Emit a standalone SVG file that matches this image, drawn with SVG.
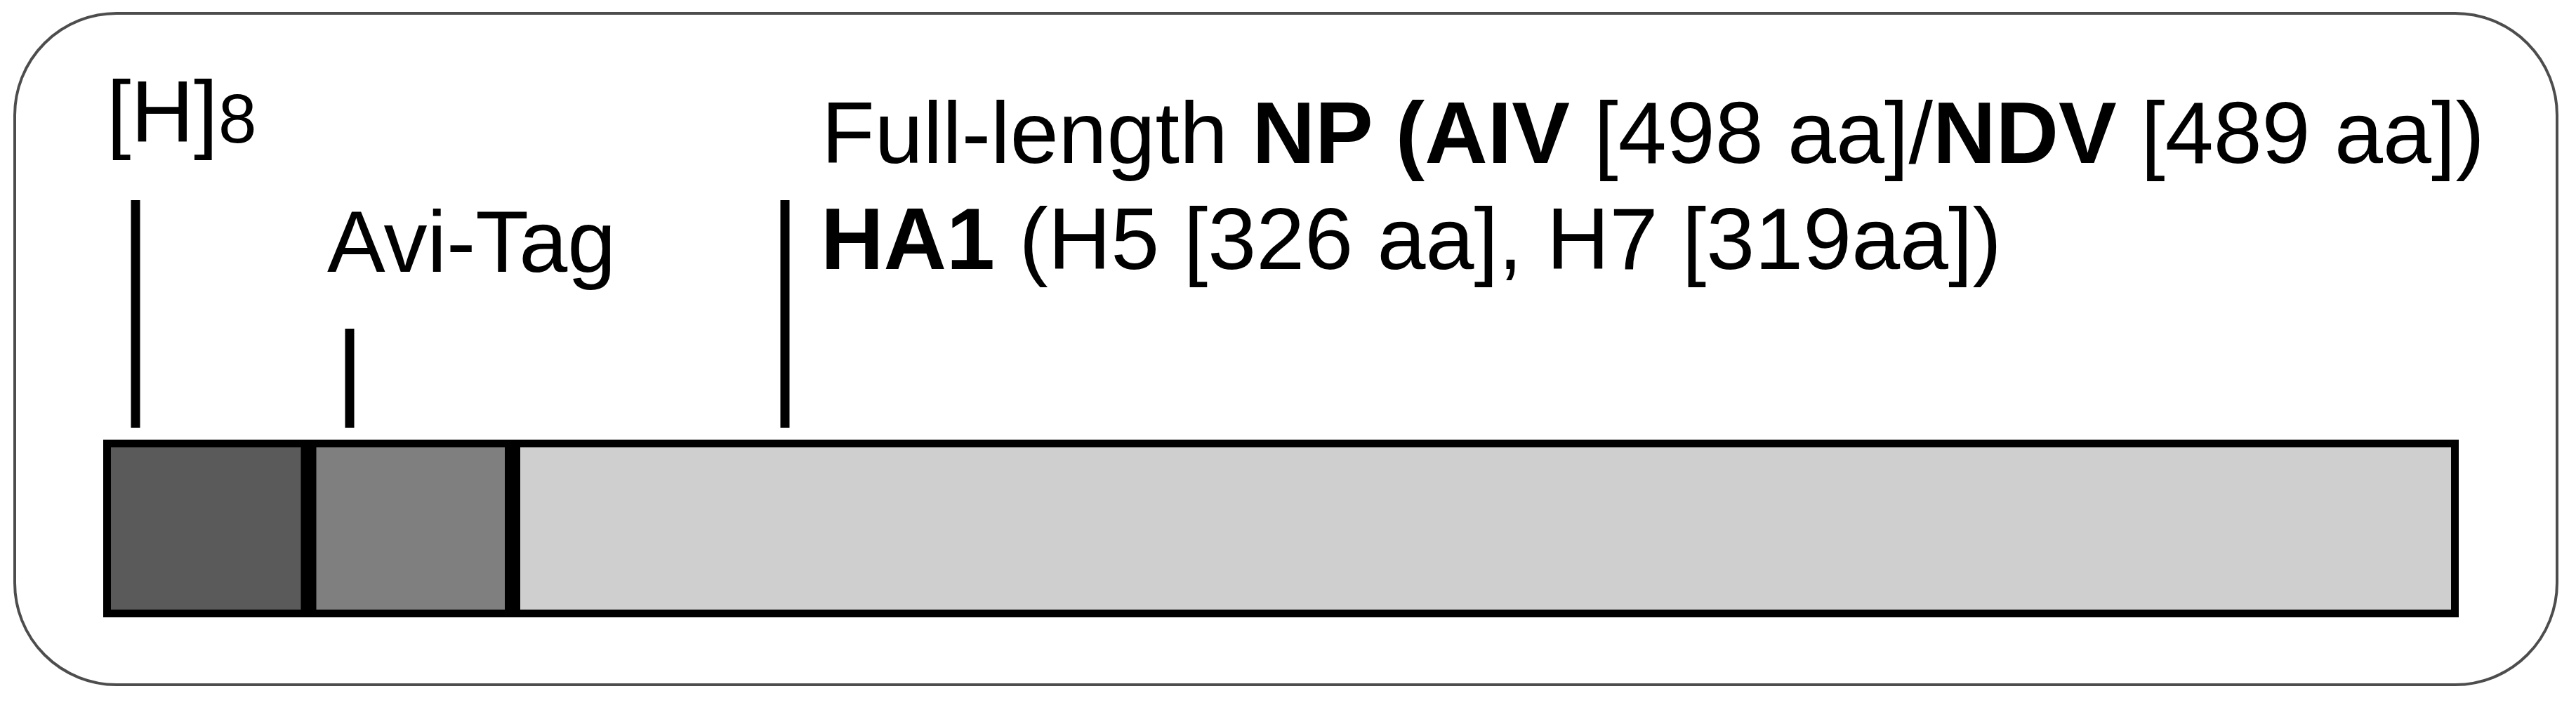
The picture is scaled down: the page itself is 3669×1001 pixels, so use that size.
<svg xmlns="http://www.w3.org/2000/svg" width="3669" height="1001" viewBox="0 0 3669 1001">
  <style>
    .t { font-family: "Liberation Sans", Arial, sans-serif; font-size: 124px; fill: #000; }
    .b { font-weight: bold; }
    .tick { stroke: #000; stroke-width: 13; }
    .seg { stroke: none; }
  </style>
  <rect x="0" y="0" width="3669" height="1001" fill="#fff"/>
  <rect id="frame" x="21" y="19" width="3621" height="956" rx="145" ry="145" fill="#fff" stroke="#4d4d4d" stroke-width="4"/>

  <g id="bar">
    <rect class="seg" x="147" y="626" width="293" height="253" fill="#5a5a5a"/>
    <rect class="seg" x="440" y="626" width="290" height="253" fill="#7f7f7f"/>
    <rect class="seg" x="730" y="626" width="2772" height="253" fill="#d0cfd0"/>
    <rect x="152.5" y="631.5" width="3344" height="242" fill="none" stroke="#000" stroke-width="11"/>
    <line x1="439.5" y1="626" x2="439.5" y2="879" stroke="#000" stroke-width="22"/>
    <line x1="730" y1="626" x2="730" y2="879" stroke="#000" stroke-width="22"/>
  </g>

  <g id="connectors">
    <line class="tick" x1="193" y1="285" x2="193" y2="609"/>
    <line class="tick" x1="498" y1="468" x2="498" y2="609"/>
    <line class="tick" x1="1118" y1="285" x2="1118" y2="609"/>
  </g>

  <g id="label-his">
    <text class="t" x="152" y="202">[H]</text>
    <text class="t" x="311" y="203" style="font-size:98px">8</text>
  </g>
  <g id="label-avi">
    <text class="t" x="466" y="387">Avi-Tag</text>
  </g>
  <g id="label-np">
    <text class="t" x="1170" y="232">Full-length <tspan class="b">NP (AIV</tspan> [498 aa]/<tspan class="b">NDV</tspan> [489 aa])</text>
  </g>
  <g id="label-ha1">
    <text class="t" x="1169" y="383"><tspan class="b">HA1</tspan> (H5 [326 aa], H7 [319aa])</text>
  </g>
</svg>
